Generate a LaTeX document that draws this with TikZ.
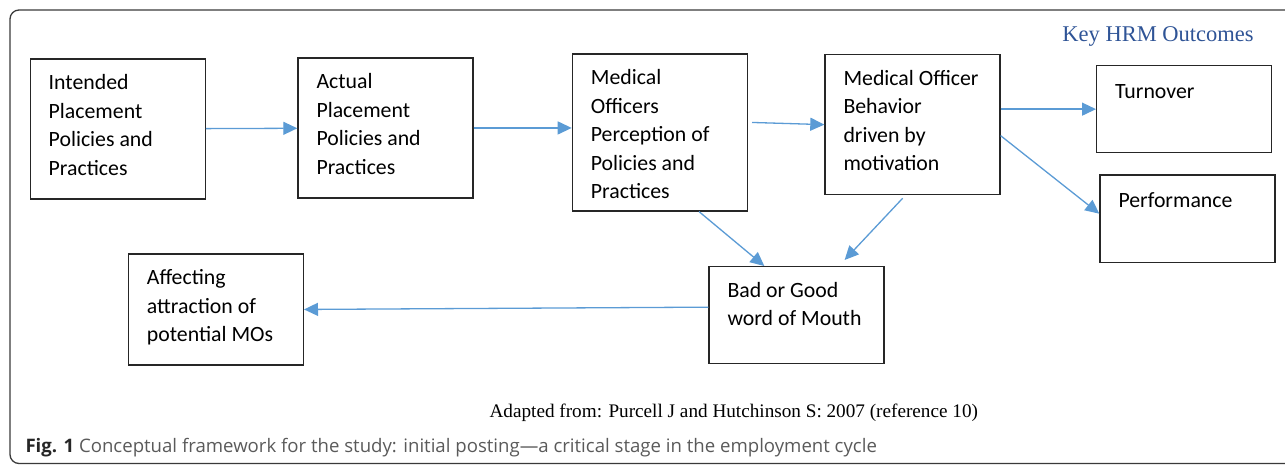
\documentclass[tikz,border=0pt]{standalone}
\usepackage{fontspec}
\setmainfont{Liberation Serif}
\newfontfamily\boxfamily{Carlito}
\newfontfamily\capfamily{Open Sans}
\usetikzlibrary{arrows.meta,calc,positioning}

\definecolor{boxline}{HTML}{262626}
\definecolor{frameline}{HTML}{3A3A3A}
\definecolor{arrowblue}{HTML}{5B9BD5}
\definecolor{keyblue}{HTML}{2F5496}
\definecolor{capgray}{HTML}{5A5A5A}

\newcommand{\boxfont}{\boxfamily\fontsize{21.8}{28.5}\selectfont}
\newcommand{\keyfont}{\fontsize{22.5}{26}\selectfont}
\newcommand{\adaptfont}{\fontsize{19.2}{22}\selectfont}
\newcommand{\capfont}{\capfamily\fontsize{18.6}{21}\selectfont}

\begin{document}
\begin{tikzpicture}[x=1pt,y=-1pt,
    box/.style={draw=boxline, line width=1.3pt, minimum width=175pt,
      minimum height=#1, inner sep=0pt, anchor=north west},
    txt/.style={font=\boxfont, align=left, inner sep=0pt, anchor=north west,
      execute at begin node=\rule{0pt}{17pt}},
    flow/.style={draw=arrowblue, line width=1.3pt,
      -{Triangle[length=14pt,width=13pt]}}]
  \useasboundingbox (0,0) rectangle (1285,465);
  \clip (0,0) rectangle (1285,465);
  % outer frame
  \draw[frameline, line width=1.3pt, rounded corners=9pt]
    (1300,10) -- (10,10) -- (10,463.5) -- (1300,463.5);

  % boxes
  \node[box=140pt] (intended) at (29.5,58.3) {};
  \node[box=140pt] (actual) at (297.3,57.3) {};
  \node[box=157pt] (percep) at (571.7,53.3) {};
  \node[box=140pt] (behav) at (824.3,54) {};
  \node[box=87pt] (turnover) at (1096,65) {};
  \node[box=87.5pt] (perform) at (1099.3,174.3) {};
  \node[box=97pt] (mouth) at (708.3,266) {};
  \node[box=111pt] (attract) at (127.7,253.3) {};

  % box texts
  \node[txt] (intendedtext) at ([shift={(19pt,-16pt)}]intended.north west)
    {Intended\\Placement\\Policies and\\Practices};
  \node[txt] (actualtext) at ([shift={(19pt,-16pt)}]actual.north west)
    {Actual\\Placement\\Policies and\\Practices};
  \node[txt] (perceptext) at ([shift={(19pt,-16pt)}]percep.north west)
    {Medical\\Officers\\Perception of\\Policies and\\Practices};
  \node[txt] (behavtext) at ([shift={(19pt,-16pt)}]behav.north west)
    {Medical Officer\\Behavior\\driven by\\motivation};
  \node[txt] (turnovertext) at ([shift={(19pt,-16pt)}]turnover.north west)
    {Turnover};
  \node[txt] (performtext) at ([shift={(19pt,-16pt)}]perform.north west)
    {Performance};
  \node[txt] (mouthtext) at ([shift={(19pt,-16pt)}]mouth.north west)
    {Bad or Good\\word of Mouth};
  \node[txt] (attracttext) at ([shift={(19pt,-16pt)}]attract.north west)
    {Affecting\\attraction of\\potential MOs};

  % free texts
  \node[font=\keyfont, text=keyblue, inner sep=0pt, anchor=base] (keyhrm)
    at (1158,42) {Key HRM Outcomes};
  \node[font=\adaptfont, inner sep=0pt, anchor=base] (adapted)
    at (733.8,417.5) {Adapted from: Purcell J and Hutchinson S: 2007 (reference 10)};
  \node[font=\capfont, text=capgray, inner sep=0pt, anchor=base west] (caption)
    at (25.3,452) {\textcolor{boxline}{\textbf{Fig. 1}} Conceptual framework for the study: initial posting—a critical stage in the employment cycle};

  % arrows
  \draw[flow] (intended) -- (actual);
  \draw[flow] (actual.east) -- (actual.east -| percep.west);
  \draw[flow] ([xshift=4pt,yshift=10pt]percep.east) -- (behav.west);
  \draw[flow] (behav.east |- turnover.west) -- (turnover.west);
  \draw[flow] ([yshift=-11pt]behav.east) -- ([yshift=5pt]perform.west);
  \draw[flow] ([xshift=-49pt]percep.south east) -- ([xshift=56pt]mouth.north west);
  \draw[flow] ([xshift=-98pt,yshift=-3pt]behav.south east) -- ([xshift=-40pt,yshift=6pt]mouth.north east);
  \draw[flow] ([yshift=8pt]mouth.west) -- (attract.east);
\end{tikzpicture}
\end{document}
